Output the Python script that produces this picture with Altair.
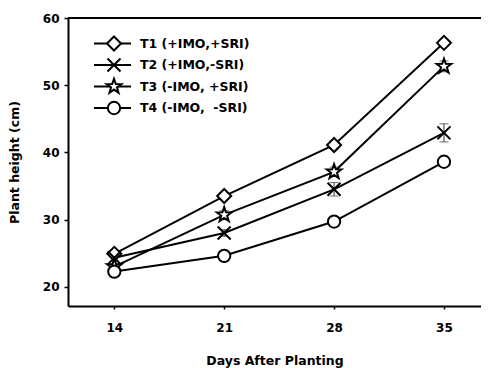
import altair as alt
import pandas as pd

days = [14, 21, 28, 35]
labels = ["T1 (+IMO,+SRI)", "T2 (+IMO,-SRI)", "T3 (-IMO, +SRI)", "T4 (-IMO, \u00a0-SRI)"]
t1 = [24.9, 33.5, 41.1, 56.3]
t2 = [24.3, 28.0, 34.5, 42.9]
t3 = [23.0, 30.7, 37.1, 52.8]
t4 = [22.25, 24.6, 29.7, 38.6]
t1_err = [0.3, 0.5, 0.6, 0.5]
t2_err = [0.5, 0.5, 1.0, 1.35]
t3_err = [0.3, 0.6, 0.7, 0.8]
t4_err = [0.3, 0.4, 0.5, 0.6]
y_ticks = [20, 30, 40, 50, 60]

series = [t1, t2, t3, t4]
errs = [t1_err, t2_err, t3_err, t4_err]
rows = []
for lab, vals, es in zip(labels, series, errs):
    for d, v, e in zip(days, vals, es):
        rows.append({"day": d, "series": lab, "value": v, "lo": v - e, "hi": v + e})
df = pd.DataFrame(rows)
leg_df = pd.DataFrame({"series": labels, "row": list(range(len(labels)))})

FONT = "DejaVu Sans"
W, H = 413, 288

# marker paths (unit coordinates, scaled by sqrt(size)/2)
star = ("M0,-1.1L0.259,-0.356L1.046,-0.340L0.418,0.136L0.647,0.890L0,0.44"
        "L-0.647,0.890L-0.418,0.136L-1.046,-0.340L-0.259,-0.356Z")
diamond = "M-1,0L0,-1L1,0L0,1Z"
xmark = "M-0.93,-0.93L0.93,0.93M-0.93,0.93L0.93,-0.93"
circle = "M-0.88,0A0.88,0.88,0,1,0,0.88,0A0.88,0.88,0,1,0,-0.88,0Z"
point_paths = [diamond, xmark, star, circle]
shape_scale = alt.Scale(domain=labels, range=point_paths)

xscale = alt.Scale(domain=[11.05, 37.36], nice=False, zero=False)
yscale = alt.Scale(domain=[17.13, 60], nice=False, zero=False)

xaxis = alt.Axis(values=days, title="Days After Planting", grid=False,
                 labelFont=FONT, labelFontWeight="bold", labelFontSize=12, labelColor="black",
                 titleFont=FONT, titleFontWeight="bold", titleFontSize=12.5, titleColor="black",
                 tickSize=3, tickWidth=1.5, tickColor="black", domainColor="black", domainWidth=2,
                 labelPadding=13, titlePadding=21)
yaxis = alt.Axis(values=y_ticks, title="Plant height (cm)", grid=False,
                 labelFont=FONT, labelFontWeight="bold", labelFontSize=12, labelColor="black",
                 titleFont=FONT, titleFontWeight="bold", titleFontSize=12.5, titleColor="black",
                 tickSize=4, tickWidth=1.5, tickColor="black", domainColor="black", domainWidth=2,
                 labelPadding=5, titlePadding=21)

base = alt.Chart(df)
x = alt.X("day:Q", scale=xscale, axis=xaxis)
y = alt.Y("value:Q", scale=yscale, axis=yaxis)

lines = base.mark_line(color="black", strokeWidth=2).encode(x=x, y=y, detail="series:N")

err_rule = base.mark_rule(color="#333", strokeWidth=1).encode(
    x=alt.X("day:Q", scale=xscale), y=alt.Y("lo:Q", scale=yscale), y2="hi:Q")
cap_lo = base.mark_tick(orient="horizontal", size=9, thickness=1, color="#333").encode(
    x=alt.X("day:Q", scale=xscale), y=alt.Y("lo:Q", scale=yscale))
cap_hi = base.mark_tick(orient="horizontal", size=9, thickness=1, color="#333").encode(
    x=alt.X("day:Q", scale=xscale), y=alt.Y("hi:Q", scale=yscale))

points = base.mark_point(filled=False, fill="white", stroke="black", strokeWidth=2,
                         size=196, opacity=1).encode(
    x=x, y=y,
    shape=alt.Shape("series:N", scale=shape_scale, legend=None),
)

top_line = alt.Chart(pd.DataFrame({"a": [0]})).mark_rule(color="black", strokeWidth=2).encode(
    x=alt.value(0), x2=alt.value(W), y=alt.value(0))

main = alt.layer(lines, err_rule, cap_lo, cap_hi, points, top_line)

# legend drawn inside the plot area
leg_y = alt.Y("row:Q", scale=alt.Scale(domain=[0, 3], range=[25.5, 90]), axis=None)
leg_base = alt.Chart(leg_df)
leg_line = leg_base.mark_rule(color="black", strokeWidth=2).encode(
    x=alt.value(26), x2=alt.value(63), y=leg_y)
leg_pts = leg_base.mark_point(filled=False, fill="white", stroke="black", strokeWidth=2,
                              size=196, opacity=1).encode(
    x=alt.value(46), y=leg_y,
    shape=alt.Shape("series:N", scale=shape_scale, legend=None))
leg_text = leg_base.mark_text(align="left", baseline="middle", font=FONT, fontWeight="bold",
                              fontSize=12.5, color="black").encode(
    x=alt.value(72), y=leg_y, text="series:N")
legend = alt.layer(leg_line, leg_pts, leg_text)

chart = alt.layer(main, legend).resolve_scale(y="independent").properties(
    width=W, height=H,
    autosize=alt.AutoSizeParams(type="none"),
    padding={"left": 60, "top": 10, "right": 0, "bottom": 62},
).configure_view(stroke=None)

chart.save("out.html", embed_options={"renderer": "svg", "actions": False})
